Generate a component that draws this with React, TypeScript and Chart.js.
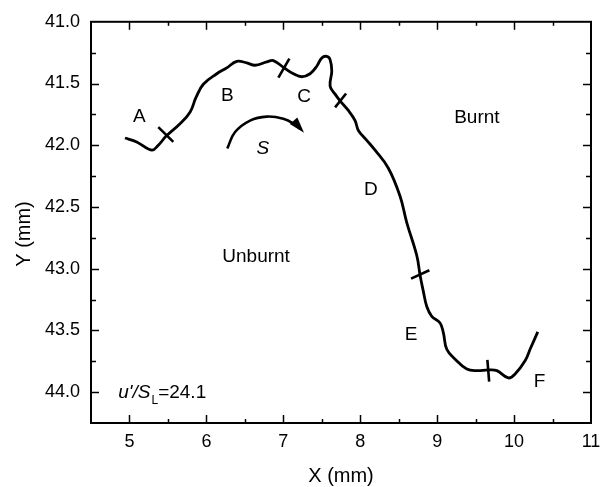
import React, { useEffect, useRef } from "react";
import { Chart, registerables } from "chart.js";

Chart.register(...registerables);

// Flame front trace (mm)
const frontX = [4.942, 5.094, 5.289, 5.375, 5.475, 5.657, 5.787, 5.865, 5.96, 6.135, 6.265, 6.395, 6.525, 6.633, 6.785, 6.871, 7.01, 7.131, 7.24, 7.348, 7.435, 7.5, 7.565, 7.608, 7.63, 7.608, 7.673, 7.738, 7.848, 7.933, 7.976, 8.085, 8.193, 8.366, 8.518, 8.605, 8.735, 8.778, 8.821, 8.865, 8.93, 9.038, 9.081, 9.125, 9.233, 9.385, 9.515, 9.666, 9.776, 9.926, 10.013, 10.143, 10.208, 10.308];
const frontY = [41.941, 41.973, 42.04, 42.0, 41.928, 41.826, 41.733, 41.613, 41.506, 41.421, 41.373, 41.32, 41.333, 41.352, 41.325, 41.314, 41.373, 41.421, 41.445, 41.421, 41.36, 41.293, 41.28, 41.306, 41.4, 41.52, 41.586, 41.64, 41.72, 41.8, 41.88, 41.96, 42.04, 42.186, 42.413, 42.626, 42.893, 43.053, 43.186, 43.306, 43.386, 43.44, 43.52, 43.653, 43.733, 43.813, 43.826, 43.82, 43.826, 43.885, 43.853, 43.746, 43.653, 43.512];

// Segment division marks (start/end)
const markX = [[5.375, 5.57], [7.079, 6.936], [7.816, 7.673], [8.899, 8.661], [9.653, 9.676]];
const markY = [[41.853, 41.973], [41.298, 41.453], [41.581, 41.693], [43.013, 43.08], [43.738, 43.914]];

// Arc-length direction arrow "S"
const arrowX = [6.272, 6.373, 6.568, 6.785, 7.0, 7.153, 7.261];
const arrowY = [42.026, 41.893, 41.8, 41.768, 41.786, 41.832, 41.893];

// Annotations
const labelText = ["A", "B", "C", "D", "E", "F", "Burnt", "Unburnt"];
const labelX = [5.128, 6.272, 7.27, 8.137, 8.661, 10.33, 9.516, 6.646];
const labelY = [41.773, 41.6, 41.605, 42.36, 43.533, 43.912, 41.781, 42.906];
const sLabelX = 6.733;
const sLabelY = 42.026;
const ratioLabelX = 4.855;
const ratioLabelY = 44.05;
const ratioValue = "=24.1";

// Tick labels
const xTickLabels = ["5", "6", "7", "8", "9", "10", "11"];
const yTickLabels = ["41.0", "41.5", "42.0", "42.5", "43.0", "43.5", "44.0"];

const FONT = '"Liberation Sans", Arial, Helvetica, sans-serif';

const framePlugin = {
  id: "framePlugin",
  afterDraw(chart: any) {
    const { ctx, chartArea: a, scales } = chart;
    const xs = scales.x;
    const ys = scales.y;
    ctx.save();
    ctx.strokeStyle = "#000";
    ctx.fillStyle = "#000";
    ctx.lineCap = "butt";
    const seg = (x1: number, y1: number, x2: number, y2: number) => {
      ctx.beginPath();
      ctx.moveTo(x1, y1);
      ctx.lineTo(x2, y2);
      ctx.stroke();
    };
    ctx.lineWidth = 1.5;
    xs.ticks.forEach((t: any) => {
      const v = t.value;
      if (v <= xs.min + 1e-9 || v >= xs.max - 1e-9) return;
      const p = Math.round(xs.getPixelForValue(v)) + 0.5;
      const major = Math.abs(v - Math.round(v)) < 1e-6;
      const len = major ? 8 : 4;
      seg(p, a.bottom, p, a.bottom - len);
      seg(p, a.top, p, a.top + len);
    });
    ys.ticks.forEach((t: any) => {
      const v = t.value;
      if (v <= ys.min + 1e-9 || v >= ys.max - 1e-9) return;
      const p = Math.round(ys.getPixelForValue(v)) + 0.5;
      const major = Math.abs(v * 2 - Math.round(v * 2)) < 1e-6;
      const len = major ? 8 : 5;
      seg(a.left, p, a.left + len, p);
      seg(a.right, p, a.right - len, p);
    });
    ctx.lineWidth = 2;
    ctx.strokeRect(a.left, a.top, a.right - a.left, a.bottom - a.top);

    // arrowhead
    const n = arrowX.length;
    const tx = xs.getPixelForValue(arrowX[n - 1]);
    const ty = ys.getPixelForValue(arrowY[n - 1]);
    const px = xs.getPixelForValue(arrowX[n - 2]);
    const py = ys.getPixelForValue(arrowY[n - 2]);
    let ang = Math.atan2(ty - py, tx - px) + 0.12;
    const L = 15, W = 5;
    const bx = tx - L * Math.cos(ang), by = ty - L * Math.sin(ang);
    ctx.beginPath();
    ctx.moveTo(tx + 1 * Math.cos(ang), ty + 1 * Math.sin(ang));
    ctx.lineTo(bx + W * Math.sin(ang), by - W * Math.cos(ang));
    ctx.lineTo(bx - W * Math.sin(ang), by + W * Math.cos(ang));
    ctx.closePath();
    ctx.fill();

    // labels
    ctx.textAlign = "center";
    ctx.textBaseline = "middle";
    ctx.font = `19px ${FONT}`;
    labelText.forEach((t, i) => {
      ctx.fillText(t, xs.getPixelForValue(labelX[i]), ys.getPixelForValue(labelY[i]));
    });
    ctx.font = `italic 19px ${FONT}`;
    ctx.fillText("S", xs.getPixelForValue(sLabelX), ys.getPixelForValue(sLabelY));

    // u'/S_L = 24.1
    ctx.textAlign = "left";
    ctx.textBaseline = "alphabetic";
    let cx = xs.getPixelForValue(ratioLabelX);
    const cy = ys.getPixelForValue(ratioLabelY);
    const parts: [string, string, number][] = [
      ["u'/S", `italic 19px ${FONT}`, 0],
      ["L", `12px ${FONT}`, 6],
      [ratioValue, `19px ${FONT}`, 0],
    ];
    parts.forEach(([txt, f, dy]) => {
      ctx.font = f;
      ctx.fillText(txt, cx, cy + dy);
      cx += ctx.measureText(txt).width + (txt === "L" ? 0 : 1);
    });

    // axis titles
    ctx.font = `20px ${FONT}`;
    ctx.textAlign = "center";
    ctx.textBaseline = "middle";
    ctx.fillText("X (mm)", (a.left + a.right) / 2, 476);
    ctx.save();
    ctx.translate(24, 234);
    ctx.rotate(-Math.PI / 2);
    ctx.fillText("Y (mm)", 0, 0);
    ctx.restore();
    ctx.restore();
  },
};

export default function App() {
  const ref = useRef<HTMLCanvasElement | null>(null);
  useEffect(() => {
    if (!ref.current) return;
    const lineDs = (xsArr: number[], ysArr: number[], width: number, tension: number) => ({
      data: xsArr.map((x, i) => ({ x, y: ysArr[i] })),
      showLine: true,
      borderColor: "#000",
      backgroundColor: "#000",
      borderWidth: width,
      pointRadius: 0,
      tension,
      fill: false,
    });
    const datasets: any[] = [lineDs(frontX, frontY, 2.8, 0.4)];
    markX.forEach((mx, i) => datasets.push(lineDs(mx, markY[i], 2.6, 0)));
    datasets.push(lineDs(arrowX.slice(0, arrowX.length - 1).concat([arrowX[arrowX.length - 1] - 0.04]), arrowY.slice(0, arrowY.length - 1).concat([arrowY[arrowY.length - 1] - 0.025]), 2.6, 0.4));

    const chart = new Chart(ref.current, {
      type: "scatter",
      data: { datasets },
      options: {
        responsive: false,
        animation: false,
        devicePixelRatio: 1,
        layout: { padding: { left: 0, right: 18, top: 17, bottom: 0 } },
        plugins: { legend: { display: false }, tooltip: { enabled: false } },
        scales: {
          x: {
            type: "linear",
            min: 4.5,
            max: 11,
            position: "bottom",
            afterFit: (s: any) => { s.height = 64; },
            grid: { display: false, drawTicks: false },
            border: { display: false },
            ticks: {
              stepSize: 0.5,
              autoSkip: false,
              maxRotation: 0,
              padding: 8,
              color: "#000",
              font: { family: FONT, size: 18 },
              callback: (v: any) => {
                const s = String(Number(v));
                return xTickLabels.includes(s) ? s : "";
              },
            },
          },
          y: {
            type: "linear",
            min: 41,
            max: 44.25,
            reverse: true,
            afterFit: (s: any) => { s.width = 91; },
            grid: { display: false, drawTicks: false },
            border: { display: false },
            ticks: {
              stepSize: 0.25,
              autoSkip: false,
              padding: 11,
              color: "#000",
              font: { family: FONT, size: 18 },
              callback: (v: any) => {
                const s = Number(v).toFixed(1);
                return Math.abs(Number(v) * 2 - Math.round(Number(v) * 2)) < 1e-6 && yTickLabels.includes(s) ? s : "";
              },
            },
          },
        },
      } as any,
      plugins: [framePlugin],
    });
    return () => chart.destroy();
  }, []);
  return (
    <div style={{ position: "absolute", left: 0, top: 0, width: 609, height: 487, background: "#fff" }}>
      <canvas ref={ref} width={609} height={487} style={{ display: "block" }} />
    </div>
  );
}
